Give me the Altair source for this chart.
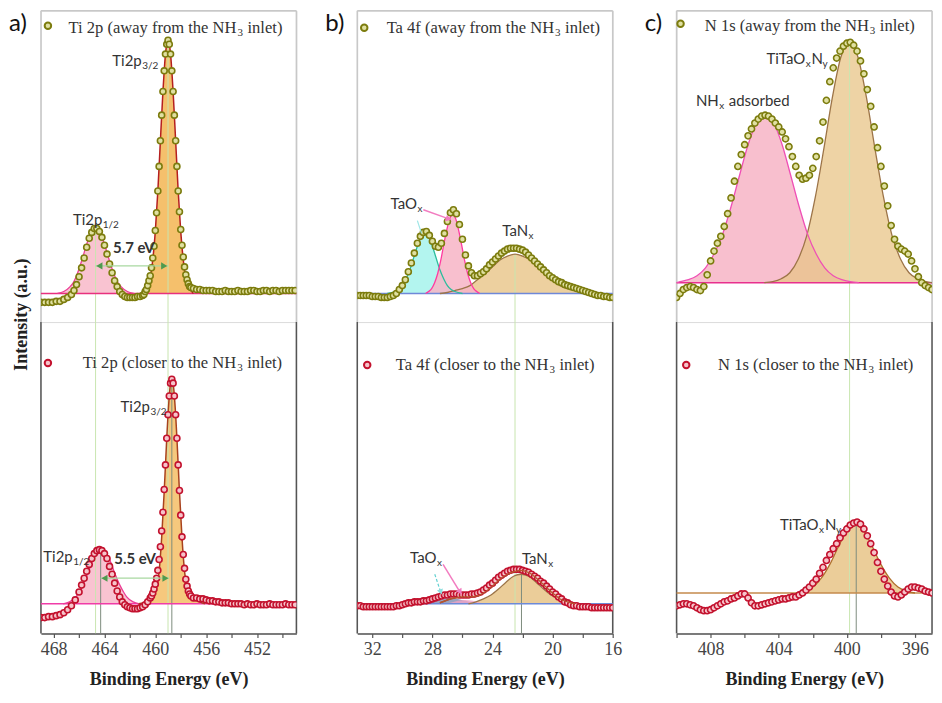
import altair as alt
import pandas as pd

# ---------------- layout / fonts ----------------
W, H = 256, 312
YDOM = [0, 316]
SERIF = "Liberation Serif"
SANS = "Lato"

# ---------------- axes (binding energy, eV) ----------------
XDOM_A = [448.9, 469.0]
XDOM_B = [16.0, 33.0]
XDOM_C = [395.0, 410.0]
TICKS_A = [450, 452, 454, 456, 458, 460, 462, 464, 466, 468]
TICKS_B = [16, 18, 20, 22, 24, 26, 28, 30, 32]
TICKS_C = [396, 398, 400, 402, 404, 406, 408, 410]

# ---------------- panel a: Ti 2p ----------------
E_A_TOP = [469.0, 468.7, 468.4, 468.1, 467.8, 467.5, 467.2, 466.9, 466.6, 466.4,
           466.2, 466.0, 465.8, 465.6, 465.4, 465.2, 465.0, 464.8, 464.6, 464.4,
           464.2, 464.0, 463.8, 463.6, 463.4, 463.2, 463.0, 462.8, 462.6, 462.4,
           462.2, 462.0, 461.8, 461.6, 461.4, 461.2,
           461.0, 460.9, 460.8, 460.7, 460.6, 460.5, 460.4, 460.3, 460.2, 460.1,
           460.0, 459.9, 459.8, 459.7, 459.6, 459.5, 459.4, 459.3, 459.2, 459.1,
           459.0, 458.9, 458.8, 458.7, 458.6, 458.5, 458.4, 458.3, 458.2, 458.1,
           458.0, 457.9, 457.8, 457.7, 457.6, 457.5, 457.4, 457.3, 457.2,
           457.0, 456.75, 456.5, 456.25, 456.0, 455.75, 455.5, 455.25, 455.0, 454.75,
           454.5, 454.25, 454.0, 453.75, 453.5, 453.25, 453.0, 452.75, 452.5, 452.25,
           452.0, 451.75, 451.5, 451.25, 451.0, 450.75, 450.5, 450.25, 450.0, 449.75,
           449.5, 449.25, 449.0]
I_A_TOP = [20, 20, 20, 20, 21, 21, 23, 25, 28, 32,
           38, 46, 55, 65, 76, 85, 91, 95, 95, 92,
           86, 78, 69, 59, 50, 42, 36, 31, 28, 26,
           25, 25, 25, 25, 26, 26,
           27, 28, 31, 33, 37, 42, 47, 55, 65, 77,
           93, 111, 133, 158, 184, 210, 234, 255, 272, 282,
           286, 282, 272, 255, 234, 210, 184, 158, 133, 112,
           94, 78, 66, 56, 48, 43, 39, 36, 35,
           34, 33, 33, 32, 32, 32, 32, 31, 31, 31,
           32, 31, 31, 31, 32, 31, 31, 31, 32, 32,
           31, 31, 32, 32, 31, 32, 32, 31, 32, 32,
           32, 32, 32]
BASE_A_TOP = 29
P_A_TOP_E = [467.7, 467.2, 466.7, 466.45, 466.2, 465.95, 465.7, 465.45, 465.2, 464.95, 464.7,
             464.45, 464.2, 463.95, 463.7, 463.45, 463.2, 462.95, 462.7, 462.2, 461.7]
P_A_TOP_I = [29, 31, 36, 40, 47, 56, 66, 77, 86, 93, 95, 93, 86, 77, 66, 56, 47, 40, 36, 31, 29]
O_A_TOP_E = [461.0, 460.8, 460.6, 460.4, 460.2, 460.0, 459.8, 459.6, 459.4, 459.3, 459.2, 459.1, 459.0,
             458.9, 458.8, 458.7, 458.6, 458.4, 458.2, 458.0, 457.8, 457.6, 457.4, 457.2, 457.0]
O_A_TOP_I = [29, 32, 36, 45, 63, 92, 133, 184, 234, 255, 272, 282, 286,
             282, 272, 255, 234, 184, 133, 92, 63, 45, 36, 32, 29]

E_A_BOT = [469.0, 468.7, 468.4, 468.1, 467.8, 467.5, 467.2, 466.9, 466.6, 466.3,
           466.0, 465.8, 465.6, 465.4, 465.2, 465.0, 464.8, 464.6, 464.4, 464.2,
           464.0, 463.8, 463.6, 463.4, 463.2, 463.0, 462.8, 462.6, 462.4, 462.2,
           462.0, 461.8, 461.6, 461.4, 461.2, 461.0, 460.8, 460.6, 460.4,
           460.3, 460.2, 460.1, 460.0, 459.9, 459.8, 459.7, 459.6, 459.5, 459.4,
           459.3, 459.2, 459.1, 459.0, 458.9, 458.8, 458.7, 458.6, 458.5, 458.4,
           458.3, 458.2, 458.1, 458.0, 457.9, 457.8, 457.7, 457.6, 457.5, 457.4,
           457.3, 457.2,
           457.0, 456.75, 456.5, 456.25, 456.0, 455.75, 455.5, 455.25, 455.0, 454.75,
           454.5, 454.25, 454.0, 453.75, 453.5, 453.25, 453.0, 452.75, 452.5, 452.25,
           452.0, 451.75, 451.5, 451.25, 451.0, 450.75, 450.5, 450.25, 450.0, 449.75,
           449.5, 449.25, 449.0]
I_A_BOT = [16, 16, 17, 17, 18, 19, 21, 24, 28, 34,
           42, 49, 56, 63, 70, 76, 81, 84, 85, 84,
           81, 76, 68, 60, 51, 43, 37, 32, 29, 27,
           26, 25, 25, 25, 26, 27, 29, 32, 36,
           38, 41, 45, 50, 56, 64, 75, 88, 104, 123,
           146, 171, 198, 222, 241, 254, 258, 254, 241, 222,
           198, 171, 145, 120, 98, 80, 66, 55, 48, 43,
           40, 38,
           36, 36, 35, 35, 34, 33, 33, 32, 32, 31,
           31, 31, 30, 30, 30, 30, 29, 30, 29, 29,
           30, 29, 29, 29, 30, 29, 29, 29, 29, 30,
           29, 29, 29]
BASE_A_BOT = 30
P_A_BOT_E = [467.25, 466.75, 466.25, 466.0, 465.75, 465.5, 465.25, 465.0, 464.75, 464.5, 464.25,
             464.0, 463.75, 463.5, 463.25, 463.0, 462.75, 462.5, 462.25, 461.75, 461.25]
P_A_BOT_I = [30, 32, 37, 42, 48, 55, 63, 72, 79, 83, 85, 83, 79, 72, 63, 55, 48, 42, 37, 32, 30]
O_A_BOT_E = [461.3, 460.9, 460.5, 460.3, 460.1, 459.9, 459.7, 459.5, 459.3, 459.1,
             459.0, 458.9, 458.8, 458.7, 458.6, 458.5, 458.4, 458.3, 458.1, 457.9,
             457.7, 457.5, 457.3, 457.1, 456.9, 456.5, 456.1]
O_A_BOT_I = [30, 31, 32, 35, 40, 48, 63, 97, 144, 198,
             222, 241, 254, 258, 254, 241, 222, 198, 144, 97,
             63, 46, 40, 37, 35, 32, 30]

# ---------------- panel b: Ta 4f ----------------
E_B = [33.0, 32.8, 32.6, 32.4, 32.2, 32.0, 31.8, 31.6, 31.4, 31.2,
       31.0, 30.8, 30.6, 30.4, 30.2, 30.0, 29.8, 29.6, 29.4, 29.2,
       29.0, 28.8, 28.6, 28.4, 28.2, 28.0, 27.8, 27.6, 27.4, 27.2,
       27.0, 26.8, 26.6, 26.4, 26.2, 26.0, 25.8, 25.6, 25.4, 25.2,
       25.0, 24.8, 24.6, 24.4, 24.2, 24.0, 23.8, 23.6, 23.4, 23.2,
       23.0, 22.8, 22.6, 22.4, 22.2, 22.0, 21.8, 21.6, 21.4, 21.2,
       21.0, 20.8, 20.6, 20.4, 20.2, 20.0, 19.8, 19.6, 19.4, 19.2,
       19.0, 18.8, 18.6, 18.4, 18.2, 18.0, 17.8, 17.6, 17.4, 17.2,
       17.0, 16.8, 16.6, 16.4, 16.2, 16.0]
I_B_TOP = [27, 27, 27, 27, 27, 26, 26, 26, 25, 25,
           25, 26, 27, 29, 33, 37, 43, 51, 60, 70,
           80, 87, 91, 92, 88, 82, 77, 76, 80, 90,
           102, 111, 114, 110, 99, 84, 68, 57, 50, 47,
           47, 49, 51, 54, 58, 61, 64, 67, 70, 72,
           74, 75, 75, 75, 74, 73, 71, 68, 65, 62,
           59, 56, 53, 50, 47, 45, 43, 41, 40, 38,
           37, 36, 35, 34, 33, 32, 31, 30, 29, 28,
           27, 27, 26, 26, 25, 25]
I_B_BOT = [28, 28, 27, 27, 27, 27, 27, 27, 27, 27,
           27, 27, 27, 28, 28, 29, 30, 31, 31, 32,
           32, 32, 33, 33, 34, 35, 36, 37, 38, 39,
           39, 40, 40, 40, 39, 39, 39, 39, 40, 40,
           41, 42, 44, 46, 49, 51, 54, 57, 59, 61,
           63, 64, 65, 65, 65, 64, 63, 62, 60, 58,
           56, 53, 51, 48, 45, 42, 40, 37, 35, 32,
           31, 29, 28, 28, 27, 27, 27, 27, 26, 26,
           26, 26, 26, 26, 26, 26]
BASE_B_TOP = 29
CY_B_TOP_E = [31.0, 30.5, 30.25, 30.0, 29.75, 29.5, 29.25, 29.0, 28.75, 28.5,
              28.25, 28.0, 27.75, 27.5, 27.25, 27.0, 26.75, 26.5, 26.0]
CY_B_TOP_I = [29, 31, 33, 37, 44, 53, 65, 77, 87, 90, 87, 77, 65, 53, 44, 37, 33, 31, 29]
PK_B_TOP_E = [28.45, 28.25, 28.05, 27.85, 27.65, 27.45, 27.25, 27.05, 26.85, 26.65,
              26.45, 26.25, 26.05, 25.85, 25.65, 25.45, 25.25, 25.05, 24.85]
PK_B_TOP_I = [29, 31, 34, 40, 49, 62, 78, 93, 105, 109, 105, 93, 78, 62, 49, 40, 34, 31, 29]
TN_B_TOP_E = [27.5, 27.0, 26.5, 26.0, 25.5, 25.0, 24.5, 24.0, 23.5, 23.0, 22.5,
              22.0, 21.5, 21.0, 20.5, 20.0, 19.5, 19.0, 18.5, 18.0, 17.5]
TN_B_TOP_I = [29, 30, 32, 34, 37, 43, 49, 56, 63, 67, 69, 67, 63, 56, 49, 43, 37, 34, 32, 30, 29]
BASE_B_BOT = 30
TN_B_BOT_E = [25.6, 25.1, 24.6, 24.1, 23.6, 23.1, 22.6, 22.1, 21.6, 21.1, 20.6, 20.1, 19.6, 19.1, 18.6]
TN_B_BOT_I = [30, 32, 35, 39, 45, 52, 58, 60, 58, 52, 45, 39, 35, 32, 30]
ENV_B_BOT_E = [27.5, 27.0, 26.5, 26.0, 25.5, 25.0, 24.5, 24.0, 23.5, 23.0, 22.5, 22.1,
               21.5, 21.0, 20.5, 20.0, 19.5, 19.0, 18.5]
ENV_B_BOT_I = [31, 34, 36, 37, 37, 38, 42, 48, 55, 60, 63, 64, 61, 55, 48, 41, 35, 32, 30]
GY_B_BOT_E = [28.8, 28.3, 27.8, 27.3, 26.8, 26.3, 25.8, 25.3, 24.8]
GY_B_BOT_I = [30, 31, 33, 35, 36, 35, 33, 31, 30]
PK_B_BOT_E = [27.3, 26.8, 26.3, 25.8, 25.3, 24.8, 24.3]
PK_B_BOT_I = [30, 31, 33, 34, 33, 31, 30]

# ---------------- panel c: N 1s ----------------
E_C = [410.0, 409.8, 409.6, 409.4, 409.2, 409.0, 408.8, 408.6, 408.4, 408.2,
       408.0, 407.8, 407.6, 407.4, 407.2, 407.0, 406.8, 406.6, 406.4, 406.2,
       406.0, 405.8, 405.6, 405.4, 405.2, 405.0, 404.8, 404.6, 404.4, 404.2,
       404.0, 403.8, 403.6, 403.4, 403.2, 403.0, 402.8, 402.6, 402.4, 402.2,
       402.0, 401.8, 401.6, 401.4, 401.2, 401.0, 400.8, 400.6, 400.4, 400.2,
       400.0, 399.8, 399.6, 399.4, 399.2, 399.0, 398.8, 398.6, 398.4, 398.2,
       398.0, 397.8, 397.6, 397.4, 397.2, 397.0, 396.8, 396.6, 396.4, 396.2,
       396.0, 395.8, 395.6, 395.4, 395.2, 395.0]
I_C_TOP = [25, 29, 33, 35, 36, 35, 33, 32, 36, 48,
           62, 72, 80, 87, 97, 110, 126, 143, 158, 170,
           180, 189, 196, 202, 206, 209, 210, 209, 206, 202,
           198, 193, 186, 178, 168, 158, 149, 145, 146, 149,
           156, 168, 184, 203, 225, 244, 258, 268, 275, 280,
           283, 284, 281, 275, 265, 252, 236, 219, 198, 177,
           158, 138, 118, 98, 84, 77, 74, 72, 69, 62,
           54, 46, 40, 37, 35, 33]
I_C_BOT = [28, 29, 30, 30, 29, 28, 26, 24, 23, 23,
           24, 26, 28, 30, 32, 33, 35, 36, 38, 40,
           40, 36, 31, 28, 28, 29, 30, 31, 32, 33,
           34, 35, 35, 36, 37, 37, 39, 41, 44, 47,
           51, 55, 61, 67, 74, 80, 86, 91, 97, 102,
           106, 110, 112, 113, 111, 106, 99, 91, 82, 72,
           63, 55, 48, 42, 38, 37, 39, 42, 45, 47,
           47, 46, 45, 43, 42, 41]
BASE_C_TOP = 40
PK_C_TOP_E = [410.0, 409.8, 409.3, 408.8, 408.3, 407.8, 407.3, 406.8, 406.3, 405.8, 405.3, 404.8,
              404.3, 403.8, 403.3, 402.8, 402.3, 401.8, 401.3, 400.8, 400.3, 399.8, 399.3]
PK_C_TOP_I = [40, 41, 43, 47, 55, 69, 89, 117, 149, 180, 202, 210,
              202, 180, 149, 117, 89, 69, 55, 47, 43, 41, 40]
TN_C_TOP_E = [404.85, 404.35, 403.85, 403.35, 402.85, 402.35, 401.85, 401.35, 400.85, 400.35, 399.85,
              399.35, 398.85, 398.35, 397.85, 397.35, 396.85, 396.35, 395.85, 395.35, 395.0]
TN_C_TOP_I = [40, 41, 44, 50, 64, 88, 127, 176, 228, 269, 284, 269, 228, 176, 127, 88, 64, 50, 44, 41, 40]
BASE_C_BOT = 41
TN_C_BOT_E = [403.0, 402.5, 402.0, 401.5, 401.0, 400.5, 400.0, 399.5, 399.0, 398.5, 398.0,
              397.5, 397.0, 396.5, 396.0]
TN_C_BOT_I = [41, 43, 47, 56, 70, 88, 104, 110, 104, 88, 70, 56, 47, 43, 41]

# ---------------- styles ----------------
OLIVE = {"fill": "#e0e0a2", "stroke": "#7c7c0e"}
RED = {"fill": "#f6c3ca", "stroke": "#c3122e"}
PINK_F, PINK_L = "#f7b4c6", "#ec3d96"
ORNG_F = "#f3b552"
TAN_F, TAN_L = "#e8c487", "#9c7448"
CYAN_F, CYAN_L = "#9af2ea", "#2bbd9c"
GREEN_V, DARK_V = "#c9e6b0", "#7d8c7d"

ONE = pd.DataFrame({"k": [0]})


def make_enc(xdom, ticks, bottom, ytitle=None):
    xs = alt.Scale(domain=xdom, reverse=True, nice=False, zero=False)
    ys = alt.Scale(domain=YDOM, nice=False, zero=False)
    if bottom:
        ax = alt.Axis(values=ticks, labelExpr="datum.value % 4 === 0 ? datum.label : ''",
                      title="Binding Energy (eV)", grid=False, domainColor="#555", domainWidth=1.5,
                      tickColor="#555", tickSize=4, tickWidth=1.2, labelFont=SERIF, labelFontSize=18,
                      labelColor="#444", labelPadding=3, labelFlush=False, labelOverlap=False,
                      titleFont=SERIF, titleFontSize=18, titleFontWeight="bold", titleColor="#222",
                      titlePadding=12)
    else:
        ax = None
    if ytitle:
        ay = alt.Axis(title=ytitle, labels=False, ticks=False, domain=False, grid=False,
                      titleFont=SERIF, titleFontSize=18, titleFontWeight="bold", titleColor="#222",
                      titleAngle=270, titleX=-19, titleY=-8, titleAlign="center", titleBaseline="middle")
    else:
        ay = None

    def X():
        return alt.X("E:Q", scale=xs, axis=ax)

    def Y():
        return alt.Y("I:Q", scale=ys, axis=ay)
    return X, Y


def area(X, Y, E, I, base, fill, opacity=0.8):
    d = pd.DataFrame({"E": E, "I": I, "B": [base] * len(E)})
    return alt.Chart(d).mark_area(fill=fill, opacity=opacity, interpolate="monotone", clip=True).encode(
        x=X(), y=Y(), y2="B:Q")


def line(X, Y, E, I, color, width=1.3, dash=None):
    kw = dict(color=color, strokeWidth=width, interpolate="monotone", clip=True)
    if dash:
        kw["strokeDash"] = dash
    return alt.Chart(pd.DataFrame({"E": E, "I": I})).mark_line(**kw).encode(x=X(), y=Y())


def seg(X, Y, E, I, color, width=1.2, dash=None):
    kw = dict(color=color, strokeWidth=width, clip=True)
    if dash:
        kw["strokeDash"] = dash
    return alt.Chart(pd.DataFrame({"E": E, "I": I})).mark_line(**kw).encode(x=X(), y=Y())


def dots(X, Y, E, I, style, size=36):
    return alt.Chart(pd.DataFrame({"E": E, "I": I})).mark_circle(
        size=size, fill=style["fill"], stroke=style["stroke"], strokeWidth=1.6,
        fillOpacity=1, strokeOpacity=1, opacity=1, clip=True).encode(x=X(), y=Y())


def vlines(X, Y, E, top, color, width=1.0):
    d = pd.DataFrame({"E": E, "I": top, "B": [0] * len(E)})
    return alt.Chart(d).mark_rule(color=color, strokeWidth=width, clip=True).encode(x=X(), y=Y(), y2="B:Q")


def hbase(Y, base, color):
    return alt.Chart(pd.DataFrame({"I": [base]})).mark_rule(color=color, strokeWidth=1.5).encode(
        x=alt.value(0), x2=alt.value(W), y=Y())


def frame(color, top):
    out = [
        alt.Chart(ONE).mark_rule(color=color, strokeWidth=1.5).encode(x=alt.value(0), y=alt.value(0), y2=alt.value(H)),
        alt.Chart(ONE).mark_rule(color=color, strokeWidth=1.5).encode(x=alt.value(W), y=alt.value(0), y2=alt.value(H)),
    ]
    if top:
        out.append(alt.Chart(ONE).mark_rule(color=color, strokeWidth=1.5).encode(
            x=alt.value(0), x2=alt.value(W), y=alt.value(0)))
    return out


def head(X, Y, e, i, shape, color, size=50, angle=0):
    return alt.Chart(pd.DataFrame({"E": [e], "I": [i]})).mark_point(
        shape=shape, filled=True, color=color, size=size, angle=angle, opacity=1).encode(x=X(), y=Y())


def label(X, Y, e, i, pieces, size=15, weight="normal"):
    d = pd.DataFrame({"E": [e], "I": [i]})
    out = []
    for k, (txt, dx, sub) in enumerate(pieces):
        out.append(alt.Chart(d).mark_text(
            text=txt, align="right" if k == 0 else "left", baseline="middle", font=SANS,
            fontSize=round(size * 0.68) if sub else size, fontWeight=weight, color="#333",
            dx=dx, dy=5 if sub else 0).encode(x=X(), y=Y()))
    return out


def legend(nh_x, ty, mx, my, name, style):
    out = [alt.Chart(ONE).mark_circle(size=42, fill=style["fill"], stroke=style["stroke"], strokeWidth=2,
                                      opacity=1).encode(x=alt.value(mx), y=alt.value(my))]
    for txt, dx, sub in [(name, 0, False), ("3", 1, True), ("inlet)", 11, False)]:
        out.append(alt.Chart(ONE).mark_text(
            text=txt, align="right" if dx == 0 else "left", baseline="middle", font=SERIF,
            fontSize=11 if sub else 16.6, color="#333", dx=dx, dy=5 if sub else 0).encode(
            x=alt.value(nh_x), y=alt.value(ty)))
    return out


def letter(txt, x):
    return alt.Chart(ONE).mark_text(text=txt, align="left", baseline="top", font=SANS,
                                    fontSize=24, color="#111").encode(x=alt.value(x), y=alt.value(1))


def spacer(x, align):
    # invisible text that only widens a column's bounds, to even out the gaps between panels
    return alt.Chart(ONE).mark_text(text="16", align=align, baseline="top", font=SERIF,
                                    fontSize=18, opacity=0).encode(x=alt.value(x), y=alt.value(H - 20))


# ================= panel a =================
X, Y = make_enc(XDOM_A, TICKS_A, False)
a_top = alt.layer(
    *frame("#c8c8c8", True),
    area(X, Y, P_A_TOP_E, P_A_TOP_I, BASE_A_TOP, PINK_F),
    area(X, Y, O_A_TOP_E, O_A_TOP_I, BASE_A_TOP, ORNG_F, 0.85),
    vlines(X, Y, [464.7, 459.0], [95, 286], GREEN_V),
    hbase(Y, BASE_A_TOP, "#e8307e"),
    line(X, Y, P_A_TOP_E, P_A_TOP_I, PINK_L),
    line(X, Y, O_A_TOP_E, O_A_TOP_I, "#b51f1f", 1.5),
    dots(X, Y, E_A_TOP, I_A_TOP, OLIVE),
    seg(X, Y, [464.7, 459.0], [57, 57], "#a8d8a0"),
    head(X, Y, 464.4, 57, "triangle-left", "#4f9a4f"),
    head(X, Y, 459.3, 57, "triangle-right", "#4f9a4f"),
    *label(X, Y, 461.07, 265, [("Ti2p", 0, False), ("3/2", 0.5, True)]),
    *label(X, Y, 464.17, 104, [("Ti2p", 0, False), ("1/2", 0.5, True)]),
    *label(X, Y, 460.05, 75, [("5.7 eV", 0, False)], size=15, weight="bold"),
    *legend(196, 17, 7, 15, "Ti 2p (away from the NH", OLIVE),
    letter("a)", -32),
    spacer(W, "center"),
).properties(width=W, height=H)

X, Y = make_enc(XDOM_A, TICKS_A, True, "Intensity (a.u.)")
a_bot = alt.layer(
    *frame("#555555", False),
    area(X, Y, P_A_BOT_E, P_A_BOT_I, BASE_A_BOT, PINK_F),
    area(X, Y, O_A_BOT_E, O_A_BOT_I, BASE_A_BOT, ORNG_F, 0.75),
    vlines(X, Y, [464.7, 459.0], [316, 316], GREEN_V),
    vlines(X, Y, [464.3, 458.7], [85, 258], DARK_V),
    hbase(Y, BASE_A_BOT, "#f03ca8"),
    line(X, Y, P_A_BOT_E, P_A_BOT_I, PINK_L),
    line(X, Y, O_A_BOT_E, O_A_BOT_I, "#a8421e", 1.5),
    dots(X, Y, E_A_BOT, I_A_BOT, RED),
    seg(X, Y, [464.3, 458.9], [56, 56], "#a8d8a0"),
    head(X, Y, 464.0, 56, "triangle-left", "#4f9a4f"),
    head(X, Y, 459.2, 56, "triangle-right", "#4f9a4f"),
    *label(X, Y, 460.42, 230, [("Ti2p", 0, False), ("3/2", 0.5, True)]),
    *label(X, Y, 466.5, 78, [("Ti2p", 0, False), ("1/2", 0.5, True)]),
    *label(X, Y, 459.95, 75, [("5.5 eV", 0, False)], size=15, weight="bold"),
    *legend(195.7, 41, 7, 41, "Ti 2p (closer to the NH", RED),
).properties(width=W, height=H)

# ================= panel b =================
X, Y = make_enc(XDOM_B, TICKS_B, False)
b_top = alt.layer(
    *frame("#c8c8c8", True),
    area(X, Y, TN_B_TOP_E, TN_B_TOP_I, BASE_B_TOP, TAN_F),
    area(X, Y, CY_B_TOP_E, CY_B_TOP_I, BASE_B_TOP, CYAN_F, 0.75),
    area(X, Y, PK_B_TOP_E, PK_B_TOP_I, BASE_B_TOP, PINK_F, 0.85),
    vlines(X, Y, [22.5], [69], GREEN_V),
    hbase(Y, BASE_B_TOP, "#6f88d8"),
    line(X, Y, TN_B_TOP_E, TN_B_TOP_I, TAN_L),
    line(X, Y, CY_B_TOP_E, CY_B_TOP_I, CYAN_L),
    line(X, Y, PK_B_TOP_E, PK_B_TOP_I, "#ff3aa0"),
    dots(X, Y, E_B, I_B_TOP, OLIVE),
    seg(X, Y, [29.0, 28.72], [103, 90], "#9ee6e6"),
    seg(X, Y, [28.6, 26.95], [114, 105], "#f27cc0", 1.5),
    head(X, Y, 26.92, 104.6, "triangle-up", "#f27cc0", 45, 110),
    *label(X, Y, 29.03, 120, [("TaO", 0, False), ("x", 0.5, True)]),
    *label(X, Y, 21.63, 92, [("TaN", 0, False), ("x", 0.5, True)]),
    *legend(197.3, 17, 7, 17, "Ta 4f (away from the NH", OLIVE),
    letter("b)", -32),
).properties(width=W, height=H)

X, Y = make_enc(XDOM_B, TICKS_B, True)
b_bot = alt.layer(
    *frame("#555555", False),
    area(X, Y, TN_B_BOT_E, TN_B_BOT_I, BASE_B_BOT, TAN_F, 0.85),
    area(X, Y, GY_B_BOT_E, GY_B_BOT_I, BASE_B_BOT, "#8893b5", 0.85),
    area(X, Y, PK_B_BOT_E, PK_B_BOT_I, BASE_B_BOT, "#f0a2c6", 0.8),
    vlines(X, Y, [22.5], [316], GREEN_V),
    vlines(X, Y, [22.07], [60], DARK_V),
    hbase(Y, BASE_B_BOT, "#6d8ad8"),
    line(X, Y, TN_B_BOT_E, TN_B_BOT_I, TAN_L),
    line(X, Y, ENV_B_BOT_E, ENV_B_BOT_I, "#a8452c", 1.6),
    dots(X, Y, E_B, I_B_BOT, RED),
    line(X, Y, ENV_B_BOT_E, ENV_B_BOT_I, "#b5562e", 1.2),
    seg(X, Y, [27.29, 26.2], [70, 43], "#f27cc0", 1.5),
    head(X, Y, 26.15, 42, "triangle-up", "#f27cc0", 45, 148),
    seg(X, Y, [27.84, 27.47], [60, 43], "#5fd0d0", 1.2, [3, 2]),
    head(X, Y, 27.44, 42, "triangle-up", "#8fe0e0", 40, 161),
    *label(X, Y, 27.73, 76, [("TaO", 0, False), ("x", 0.5, True)]),
    *label(X, Y, 20.32, 75, [("TaN", 0, False), ("x", 0.5, True)]),
    *legend(191.7, 43, 10, 43, "Ta 4f (closer to the NH", RED),
).properties(width=W, height=H)

# ================= panel c =================
X, Y = make_enc(XDOM_C, TICKS_C, False)
c_top = alt.layer(
    *frame("#c8c8c8", True),
    area(X, Y, PK_C_TOP_E, PK_C_TOP_I, BASE_C_TOP, PINK_F, 0.85),
    area(X, Y, TN_C_TOP_E, TN_C_TOP_I, BASE_C_TOP, TAN_F, 0.75),
    vlines(X, Y, [399.84], [284], GREEN_V),
    hbase(Y, BASE_C_TOP, "#e8308e"),
    line(X, Y, TN_C_TOP_E, TN_C_TOP_I, TAN_L),
    line(X, Y, PK_C_TOP_E, PK_C_TOP_I, "#ef4fb5"),
    dots(X, Y, E_C, I_C_TOP, OLIVE, 38),
    *label(X, Y, 402.45, 267, [("TiTaO", 0, False), ("x", 0.5, True), ("N", 6.5, False), ("y", 17.5, True)]),
    *label(X, Y, 407.52, 224, [("NH", 0, False), ("x", 0.5, True), ("adsorbed", 10, False)]),
    *legend(192.7, 15, 4, 13, "N 1s (away from the NH", OLIVE),
    letter("c)", -32),
    spacer(-35, "left"),
).properties(width=W, height=H)

X, Y = make_enc(XDOM_C, TICKS_C, True)
c_bot = alt.layer(
    *frame("#555555", False),
    area(X, Y, TN_C_BOT_E, TN_C_BOT_I, BASE_C_BOT, TAN_F, 0.85),
    vlines(X, Y, [399.84], [316], GREEN_V),
    vlines(X, Y, [399.45], [113], DARK_V),
    hbase(Y, BASE_C_BOT, "#c58a4d"),
    line(X, Y, TN_C_BOT_E, TN_C_BOT_I, "#b0702e"),
    dots(X, Y, E_C, I_C_BOT, RED, 38),
    *label(X, Y, 401.66, 110, [("TiTaO", 0, False), ("x", 0.5, True), ("N", 6.5, False), ("y", 17.5, True)]),
    *legend(191.3, 43, 9.7, 43, "N 1s (closer to the NH", RED),
).properties(width=W, height=H)

col_a = alt.vconcat(a_top, a_bot, spacing=0, bounds="flush")
col_b = alt.vconcat(b_top, b_bot, spacing=0, bounds="flush")
col_c = alt.vconcat(c_top, c_bot, spacing=0, bounds="flush")

chart = alt.hconcat(col_a, col_b, col_c, spacing=18).properties(
    padding={"left": 0, "top": 0, "right": 0, "bottom": 0}
).configure_view(stroke=None).configure(background="white")

chart.save("out.html", embed_options={"renderer": "svg", "actions": False})
